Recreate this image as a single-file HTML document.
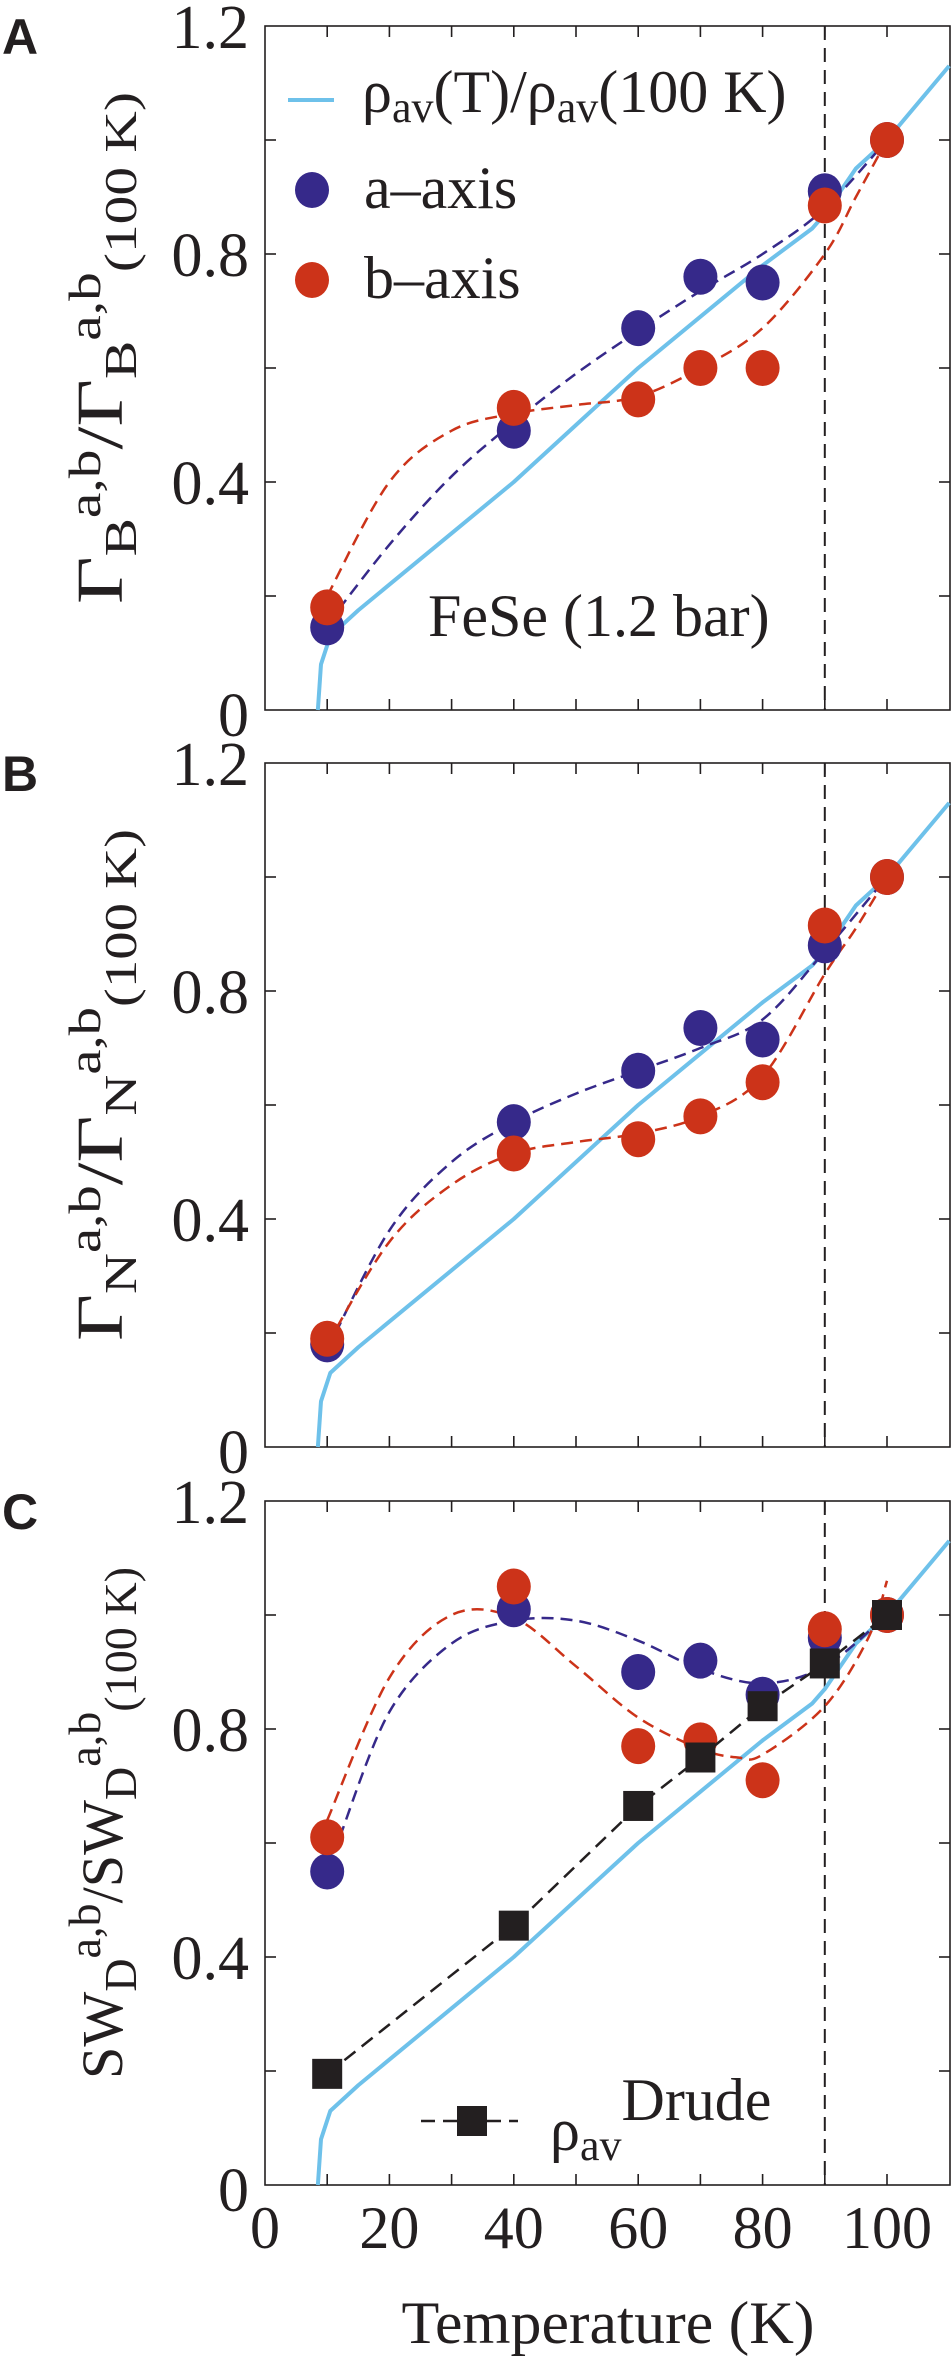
<!DOCTYPE html>
<html><head><meta charset="utf-8">
<style>
html,body{margin:0;padding:0;background:#fff;}
svg{display:block;}
text,tspan{font-family:"Liberation Serif","DejaVu Serif",serif;fill:#231f20;}
text.pl{font-family:"Liberation Sans",sans-serif;font-weight:bold;font-size:50px;}
</style></head>
<body>
<svg id="chart" width="951" height="2356" viewBox="0 0 951 2356" xmlns="http://www.w3.org/2000/svg"></svg>
<script>
const xTicks=[0,20,40,60,80,100];
const yTicks=[0,0.4,0.8,1.2];
const yTickLabels=["0","0.4","0.8","1.2"];
const T=[10,40,60,70,80,90,100];
const rhoT=[8.5,9,10.5,15,20,30,40,50,60,70,80,88,90,95,100,110];
const rhoV=[0,0.08,0.13,0.175,0.22,0.31,0.40,0.50,0.60,0.69,0.78,0.845,0.87,0.95,1.0,1.13];
// Panel A
const aA=[0.145,0.49,0.67,0.76,0.75,0.91,1.0];
const bA=[0.18,0.53,0.545,0.60,0.60,0.885,1.0];
const fitAaT=[10,20,30,40,50,60,70,80,90,100];
const fitAaV=[0.15,0.29,0.41,0.505,0.59,0.665,0.735,0.80,0.88,1.0];
const fitAbT=[10,20,30,40,50,60,70,80,90,95,100];
const fitAbV=[0.2,0.40,0.49,0.52,0.535,0.55,0.60,0.67,0.80,0.90,1.0];
// Panel B
const aB=[0.18,0.57,0.66,0.735,0.715,0.88,1.0];
const bB=[0.19,0.515,0.54,0.58,0.64,0.915,1.0];
const fitBaT=[10,20,30,40,50,60,70,80,90,100];
const fitBaV=[0.17,0.38,0.50,0.57,0.62,0.66,0.70,0.75,0.87,1.0];
const fitBbT=[10,20,30,40,50,60,70,80,90,95,100];
const fitBbV=[0.18,0.36,0.46,0.515,0.535,0.55,0.58,0.65,0.83,0.91,1.0];
// Panel C
const aC=[0.55,1.01,0.90,0.92,0.86,0.96,1.0];
const bC=[0.61,1.05,0.77,0.78,0.71,0.975,1.0];
const drude=[0.195,0.455,0.665,0.75,0.84,0.915,1.0];
const fitCaT=[12,20,30,40,50,60,70,80,90,100];
const fitCaV=[0.61,0.83,0.95,0.99,0.99,0.955,0.905,0.88,0.91,1.0];
const fitCbT=[10,20,30,40,50,60,70,76,80,90,97,100];
const fitCbV=[0.64,0.89,1.0,0.995,0.91,0.82,0.765,0.75,0.755,0.84,0.96,1.06];

const svg=document.getElementById('chart');
const NS='http://www.w3.org/2000/svg';
const SERIF='"Liberation Serif", "DejaVu Serif", serif';
function mk(tag,attrs,parent){const e=document.createElementNS(NS,tag);for(const k in attrs)e.setAttribute(k,attrs[k]);if(tag==='text'&&!attrs.class)e.setAttribute('font-family',SERIF);(parent||svg).appendChild(e);return e;}
const X0=265,XS=6.22;
function sx(t){return X0+t*XS;}
const BLUE='#6ec1ea',NAVY='#36298a',RED='#cc3319';

function smooth(pts){
  let d='M'+pts[0][0]+','+pts[0][1];
  for(let i=0;i<pts.length-1;i++){
    const p0=pts[i-1]||pts[i],p1=pts[i],p2=pts[i+1],p3=pts[i+2]||p2;
    const c1=[p1[0]+(p2[0]-p0[0])/6,p1[1]+(p2[1]-p0[1])/6];
    const c2=[p2[0]-(p3[0]-p1[0])/6,p2[1]-(p3[1]-p1[1])/6];
    d+=' C'+c1+' '+c2+' '+p2;
  }
  return d;
}

function panel(name,top,letter,aV,bV,faT,faV,fbT,fbV,title){
  const bot=top+684;
  function sy(v){return bot-v*(684/1.2);}
  const g=mk('g',{});
  
  
  const lt=mk('text',{x:2,y:top+28,class:'pl','font-family':'"Liberation Sans", sans-serif','font-weight':'bold','font-size':50},g);lt.textContent=letter;
  
  
  const fr=mk('rect',{x:X0,y:top,width:950-X0,height:684,fill:'none',stroke:'#231f20','stroke-width':1.6},g);
  
  
  for(let t=10;t<=100;t+=10){
    mk('line',{x1:sx(t),x2:sx(t),y1:bot,y2:bot-11,stroke:'#231f20','stroke-width':1.6},g);
    mk('line',{x1:sx(t),x2:sx(t),y1:top,y2:top+11,stroke:'#231f20','stroke-width':1.6},g);
  }
  for(let v=0.2;v<1.2;v+=0.2){
    mk('line',{x1:X0,x2:X0+11,y1:sy(v),y2:sy(v),stroke:'#231f20','stroke-width':1.6},g);
    mk('line',{x1:950,x2:939,y1:sy(v),y2:sy(v),stroke:'#231f20','stroke-width':1.6},g);
  }
  yTicks.forEach((v,i)=>{
    const t=mk('text',{x:X0-16,y:sy(v)+(i==0?26:22),'font-size':62,'text-anchor':'end'},g);
    t.textContent=yTickLabels[i];
    
    
  });
  const vl=mk('line',{x1:sx(90),x2:sx(90),y1:top,y2:bot,stroke:'#231f20','stroke-width':2,'stroke-dasharray':'14,8'},g);
  
  
  const rp=rhoT.map((t,i)=>[sx(t),sy(rhoV[i])]).filter(p=>p[0]<=950);
  let d='M'+rp.map(p=>p.join(',')).join(' L');
  const rl=mk('path',{d:d,fill:'none',stroke:BLUE,'stroke-width':4,'stroke-linejoin':'round'},g);
  
  
  const fa=mk('path',{d:smooth(faT.map((t,i)=>[sx(t),sy(faV[i])])),fill:'none',stroke:NAVY,'stroke-width':2.5,'stroke-dasharray':'12,7'},g);
  
  
  const fb=mk('path',{d:smooth(fbT.map((t,i)=>[sx(t),sy(fbV[i])])),fill:'none',stroke:RED,'stroke-width':2.5,'stroke-dasharray':'12,7'},g);
  
  
  T.forEach((t,i)=>{
    const c=mk('ellipse',{cx:sx(t),cy:sy(aV[i]),rx:17,ry:18,fill:NAVY},g);
    
    
  });
  T.forEach((t,i)=>{
    const c=mk('ellipse',{cx:sx(t),cy:sy(bV[i]),rx:17,ry:18,fill:RED},g);
    
    
  });
  const cy=(top+bot)/2-20;
  const yt=mk('text',{transform:'translate(122,'+cy+') rotate(-90)','text-anchor':'middle','font-size':66,textLength:512,lengthAdjust:'spacingAndGlyphs'},g);
  yt.innerHTML=title;
  
  
  return {sy:sy,g:g,bot:bot};
}
const sub=(s)=>'<tspan font-size="46" dy="14">'+s+'</tspan>';
const sup=(s)=>'<tspan font-size="46" dy="-36">'+s+'</tspan>';
const back='<tspan dy="22">';
const tA='Γ'+sub('B')+sup('a,b')+back+'/Γ</tspan>'+sub('B')+sup('a,b')+'<tspan font-size="46" dy="36">(100 K)</tspan>';
const tB='Γ'+sub('N')+sup('a,b')+back+'/Γ</tspan>'+sub('N')+sup('a,b')+'<tspan font-size="46" dy="36">(100 K)</tspan>';
const tC='<tspan font-size="58">SW</tspan>'+sub('D')+sup('a,b')+'<tspan font-size="58" dy="22">/SW</tspan>'+sub('D')+sup('a,b')+'<tspan font-size="46" dy="36">(100 K)</tspan>';

const PA=panel('a',26,'A',aA,bA,fitAaT,fitAaV,fitAbT,fitAbV,tA);
const PB=panel('b',763,'B',aB,bB,fitBaT,fitBaV,fitBbT,fitBbV,tB);
const PC=panel('c',1501,'C',aC,bC,fitCaT,fitCaV,fitCbT,fitCbV,tC);

const dp=T.map((t,i)=>[sx(t),PC.sy(drude[i])]);
const dl=mk('path',{d:'M'+dp.map(p=>p.join(',')).join(' L'),fill:'none',stroke:'#231f20','stroke-width':2.5,'stroke-dasharray':'14,8'});


dp.forEach(p=>{
  const r=mk('rect',{x:p[0]-15,y:p[1]-15,width:30,height:30,fill:'#231f20'});
  
  
});

const lg=mk('g',{});


mk('line',{x1:288,x2:334,y1:100,y2:100,stroke:BLUE,'stroke-width':4},lg);
const l1=mk('text',{x:362,y:112,'font-size':60},lg);
l1.innerHTML='ρ<tspan font-size="44" dy="10">av</tspan><tspan dy="-10">(T)/ρ</tspan><tspan font-size="44" dy="10">av</tspan><tspan dy="-10">(100 K)</tspan>';


mk('ellipse',{cx:312,cy:190,rx:17,ry:18,fill:NAVY},lg);
const l2=mk('text',{x:364,y:208,'font-size':60},lg);l2.textContent='a–axis';


mk('ellipse',{cx:312,cy:280,rx:17,ry:18,fill:RED},lg);
const l3=mk('text',{x:364,y:298,'font-size':60},lg);l3.textContent='b–axis';


const fs=mk('text',{x:428,y:636,'font-size':60});fs.textContent='FeSe (1.2 bar)';



const lc=mk('g',{});


mk('line',{x1:421,x2:518,y1:2121,y2:2121,stroke:'#231f20','stroke-width':2.5,'stroke-dasharray':'14,8'},lc);
mk('rect',{x:457,y:2106,width:30,height:30,fill:'#231f20'},lc);
const ld=mk('text',{x:550,y:2150,'font-size':60},lc);
ld.innerHTML='ρ<tspan font-size="44" dy="10">av</tspan><tspan dy="-40">Drude</tspan>';



xTicks.forEach(t=>{
  const e=mk('text',{x:sx(t),y:2248,'font-size':60,'text-anchor':'middle'});
  e.textContent=String(t);
  
  
});
const xt=mk('text',{x:608,y:2343,'font-size':60,'text-anchor':'middle',textLength:413,lengthAdjust:'spacingAndGlyphs'});
xt.textContent='Temperature (K)';


</script>
</body></html>
